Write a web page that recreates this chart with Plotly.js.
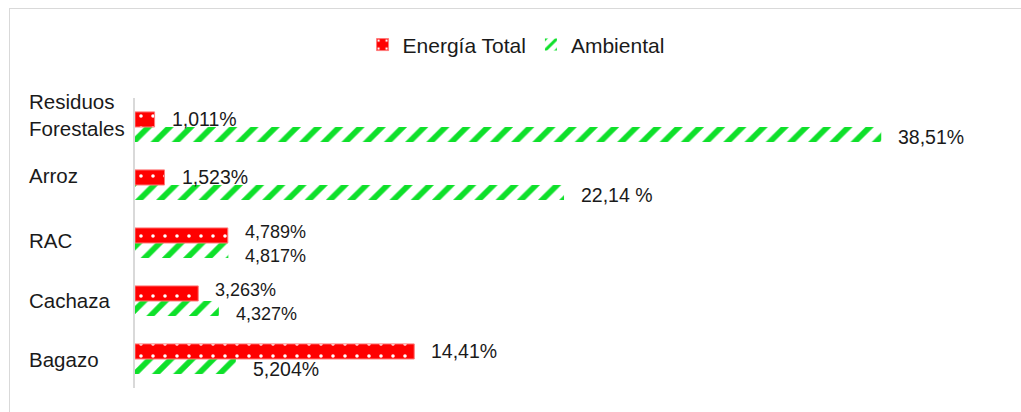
<!DOCTYPE html>
<html>
<head>
<meta charset="utf-8">
<script src="https://cdn.plot.ly/plotly-3.0.1.min.js"></script>
<style>
  html, body { margin: 0; padding: 0; background: #ffffff; overflow: hidden; }
  #chart { position: absolute; left: 0; top: 0; width: 1021px; height: 412px; }
  #frame { position: absolute; left: 9px; top: 8px; width: 1100px; height: 500px; border: 1px solid #d9d9d9; pointer-events: none; }
</style>
</head>
<body>
<div id="chart"></div>
<div id="frame"></div>
<script>
// ---- data ----
const categories = ['Bagazo', 'Cachaza', 'RAC', 'Arroz', 'Residuos Forestales'];
const categoryLabels = ['Bagazo', 'Cachaza', 'RAC', 'Arroz', 'Residuos<br>Forestales'];
const energiaTotal = [14.41, 3.263, 4.789, 1.523, 1.011];
const ambiental = [5.204, 4.327, 4.817, 22.14, 38.51];
const energiaLabels = ['14,41%', '3,263%', '4,789%', '1,523%', '1,011%'];
const ambientalLabels = ['5,204%', '4,327%', '4,817%', '22,14 %', '38,51%'];
const seriesNames = ['Energía Total', 'Ambiental'];

// ---- style ----
const FONT = 'Liberation Sans, Arial, sans-serif';
const RED = '#ff0000';
const GREEN = '#0ee02a';
const BARGAP = 0.48;
const PX_PER_UNIT = 871.7 / 45;
const half = (1 - BARGAP) / 4; // center offset of each bar within group
const catLabelShift = [0, 1, 3, 10, 12];

const traceAmb = {
  type: 'bar', orientation: 'h', name: seriesNames[1],
  x: ambiental, y: categories,
  marker: {
    color: GREEN,
    line: { width: 0 },
    pattern: { shape: '/', bgcolor: '#ffffff', fgcolor: GREEN, size: 15, solidity: 0.38, fillmode: 'replace' }
  },
  hoverinfo: 'skip'
};
const traceEn = {
  type: 'bar', orientation: 'h', name: seriesNames[0],
  x: energiaTotal, y: categories,
  marker: {
    color: RED,
    line: { width: 1, color: '#ff7a7a' },
    pattern: { shape: '.', bgcolor: RED, fgcolor: '#ffffff', size: 12, solidity: 0.07, fillmode: 'replace' }
  },
  hoverinfo: 'skip'
};

const annotations = [];
categories.forEach((c, i) => {
  // when the two value labels would sit on top of each other, nudge them apart
  const close = Math.abs(energiaTotal[i] - ambiental[i]) * PX_PER_UNIT < 80;
  const sep = close ? 3.5 : 0;
  const fs = close ? 18 : 19.5;
  annotations.push({
    xref: 'x', yref: 'y', x: energiaTotal[i], y: i + half,
    text: energiaLabels[i], showarrow: false, xanchor: 'left', yanchor: 'middle',
    xshift: 15, yshift: 0 + sep, font: { family: FONT, size: fs, color: '#1a1a1a' }
  });
  annotations.push({
    xref: 'x', yref: 'y', x: ambiental[i], y: i - half,
    text: ambientalLabels[i], showarrow: false, xanchor: 'left', yanchor: 'middle',
    xshift: 15, yshift: -2 - sep, font: { family: FONT, size: fs, color: '#1a1a1a' }
  });
  annotations.push({
    xref: 'paper', yref: 'y', x: -108 / 871.7, y: i,
    text: categoryLabels[i], showarrow: false, xanchor: 'left', yanchor: 'middle', align: 'left',
    yshift: catLabelShift[i], font: { family: FONT, size: 20.5, color: '#1a1a1a' }
  });
});

const layout = {
  width: 1021, height: 412,
  margin: { l: 135, r: 14, t: 98, b: 24 },
  paper_bgcolor: 'rgba(0,0,0,0)', plot_bgcolor: 'rgba(0,0,0,0)',
  barmode: 'group', bargap: BARGAP, bargroupgap: 0,
  font: { family: FONT, size: 20, color: '#1a1a1a' },
  xaxis: { range: [0, 45], visible: false, showgrid: false, zeroline: false, fixedrange: true },
  yaxis: {
    type: 'category', categoryorder: 'array', categoryarray: categories,
    range: [-0.5, 4.5], showticklabels: false, ticks: '', showgrid: false, zeroline: false,
    showline: true, linecolor: '#d9d9d9', linewidth: 2, fixedrange: true
  },
  showlegend: true,
  legend: {
    orientation: 'h', traceorder: 'reversed', x: 0.437, xanchor: 'center', y: 1.183, yanchor: 'middle',
    font: { family: FONT, size: 21, color: '#1a1a1a' }, itemwidth: 30, bgcolor: 'rgba(0,0,0,0)'
  },
  annotations: annotations
};

Plotly.newPlot('chart', [traceAmb, traceEn], layout, { displayModeBar: false, staticPlot: true });
</script>
</body>
</html>
